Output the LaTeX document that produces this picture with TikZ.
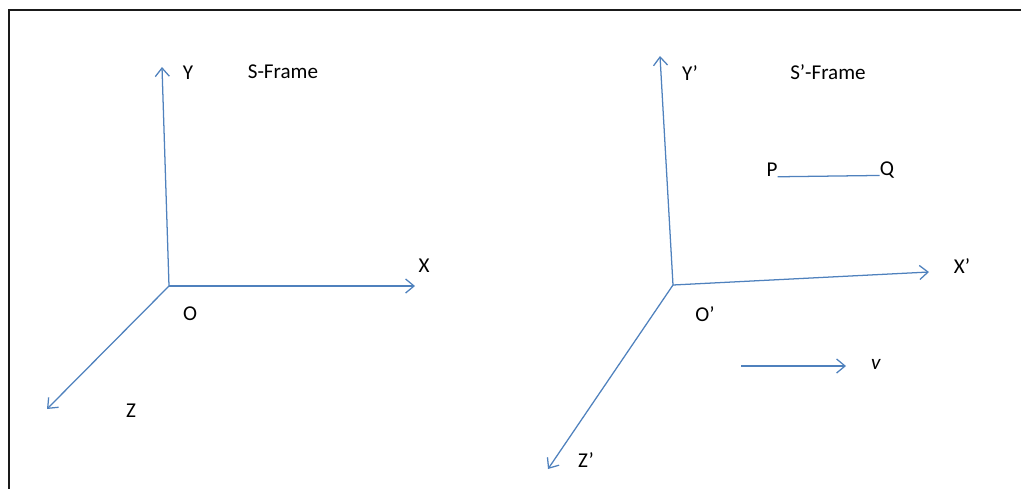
\documentclass[tikz,border=0pt]{standalone}
\usepackage{fontspec}
\setmainfont{Carlito}
\usepackage{tikz}
\usetikzlibrary{arrows.meta}
\definecolor{axisc}{HTML}{4F81BD}
\definecolor{framec}{HTML}{1A1A1A}
\tikzset{
  axis/.style={axisc,line width=0.9pt,-{Straight Barb[length=6pt,width=10pt]}},
  rod/.style={axisc,line width=0.9pt},
  lbl/.style={inner sep=0pt,font=\fontsize{15}{18}\selectfont}
}

\begin{document}
\begin{tikzpicture}[x=0.025cm,y=-0.025cm]
  \useasboundingbox (0,0) rectangle (1021,489);
  % page border
  \draw[framec,line width=1.3pt] (1021,10) -- (9,10) -- (9,489);
  % S-frame axes
  \coordinate (o) at (169,286);
  \coordinate (ytip) at (162,67);
  \coordinate (xtip) at (415,286);
  \coordinate (ztip) at (47,409);
  \draw[axis] (o) -- (ytip);
  \draw[axis] (o) -- (xtip);
  \draw[axis] (o) -- (ztip);
  \node[lbl] (ylab) at (188,73) {Y};
  \node[lbl] (stitle) at (283,72) {S-Frame};
  \node[lbl] (xlab) at (424,266) {X};
  \node[lbl] (olab) at (190,314) {O};
  \node[lbl] (zlab) at (131,411) {Z};
  % S'-frame axes
  \coordinate (o2) at (673,285);
  \coordinate (ytip2) at (660,56);
  \coordinate (xtip2) at (929,272);
  \coordinate (ztip2) at (548,469);
  \draw[axis] (o2) -- (ytip2);
  \draw[axis] (o2) -- (xtip2);
  \draw[axis] (o2) -- (ztip2);
  \node[lbl] (ylab2) at (690,73) {Y’};
  \node[lbl] (stitle2) at (828,72) {S’-Frame};
  \node[lbl] (xlab2) at (962,266) {X’};
  \node[lbl] (olab2) at (705,314) {O’};
  \node[lbl] (zlab2) at (586,460) {Z’};
  % rod PQ at rest in S'
  \node[lbl] (p) at (772,170) {P};
  \node[lbl] (q) at (887,170) {Q};
  \draw[rod] (p.base east) -- (q.base west);
  % velocity of S'
  \coordinate (vs) at (741,366);
  \coordinate (ve) at (846,366);
  \draw[axis] (vs) -- (ve);
  \node[lbl] (vlab) at (876,364) {\textit{v}};
\end{tikzpicture}
\end{document}
